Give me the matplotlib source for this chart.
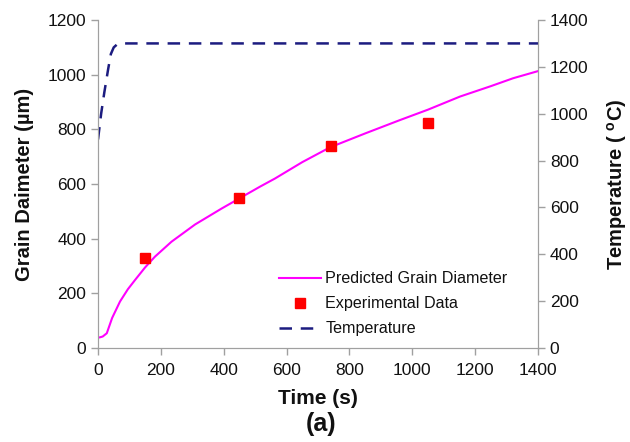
import matplotlib
matplotlib.use("Agg")
import matplotlib.pyplot as plt

plt.rcParams['font.family'] = ['Liberation Sans', 'DejaVu Sans']
plt.rcParams['mathtext.fontset'] = 'custom'
plt.rcParams['mathtext.rm'] = 'Liberation Sans:bold'
plt.rcParams['mathtext.it'] = 'Liberation Sans:bold'
plt.rcParams['mathtext.bf'] = 'Liberation Sans:bold'

# Predicted grain diameter (um) vs time (s)
pred_t = [0, 6, 15, 28, 45, 70, 95, 118, 150, 181, 234, 309, 393, 457, 515, 563,
          650, 738, 850, 961, 1050, 1152, 1250, 1321, 1400]
pred_d = [38, 39, 42, 54, 110, 170, 215, 249, 295, 334, 389, 452, 510, 552, 590, 620,
          680, 734, 785, 834, 872, 920, 958, 987, 1013]

# Experimental data
exp_t = [150, 450, 740, 1050]
exp_d = [330, 550, 740, 822]

# Temperature (C) vs time (s)
temp_t = [0, 10, 20, 32, 41, 50, 60, 75, 1400]
temp_c = [890, 1000, 1090, 1188, 1255, 1283, 1295, 1300, 1300]

fig = plt.figure(figsize=(6.3, 4.42), dpi=100)
ax = fig.add_axes([98/630, 1-348/442, 440/630, 328/442])
ax2 = ax.twinx()

l1, = ax.plot(pred_t, pred_d, color='#ff00ff', lw=1.5, label='Predicted Grain Diameter')
l2, = ax.plot(exp_t, exp_d, 's', color='#ff0000', ms=7, label='Experimental Data', zorder=5)
l3, = ax2.plot(temp_t, temp_c, color='#1c1c80', lw=1.8, dashes=(5, 3.5), label='Temperature')

ax.set_xlim(0, 1400)
ax.set_ylim(0, 1200)
ax2.set_ylim(0, 1400)
ax.set_xticks(range(0, 1401, 200))
ax.set_yticks(range(0, 1201, 200))
ax2.set_yticks(range(0, 1401, 200))

spine_col = '#a0a0a0'
for a in (ax, ax2):
    a.spines['top'].set_visible(False)
    for s in ('left', 'right', 'bottom'):
        a.spines[s].set_color(spine_col)
    a.tick_params(colors=spine_col, labelcolor='#111111', labelsize=12.5, length=5, width=1)
ax.tick_params(axis='x', pad=6)

ax.set_xlabel('Time (s)', fontsize=15, fontweight='bold', labelpad=8, color='#111111')
ax.set_ylabel('Grain Daimeter (µm)', fontsize=14.5, fontweight='bold', labelpad=10, color='#111111')
ax2.set_ylabel(r'Temperature ( $^{\mathrm{o}}$C)', fontsize=14.5, fontweight='bold', labelpad=12,
               color='#111111')

leg = ax2.legend(handles=[l1, l2, l3], loc='upper left', frameon=False,
                 bbox_to_anchor=(268/630, 1-260/442), bbox_transform=fig.transFigure,
                 fontsize=11.6, handlelength=2.6, labelspacing=0.62, handletextpad=0.25,
                 borderpad=0.2, labelcolor='#111111')

fig.text(0.51, 1-424/442, '(a)', ha='center', va='center', fontsize=18, fontweight='bold',
         color='#111111')

fig.savefig('out.png', dpi=100)
